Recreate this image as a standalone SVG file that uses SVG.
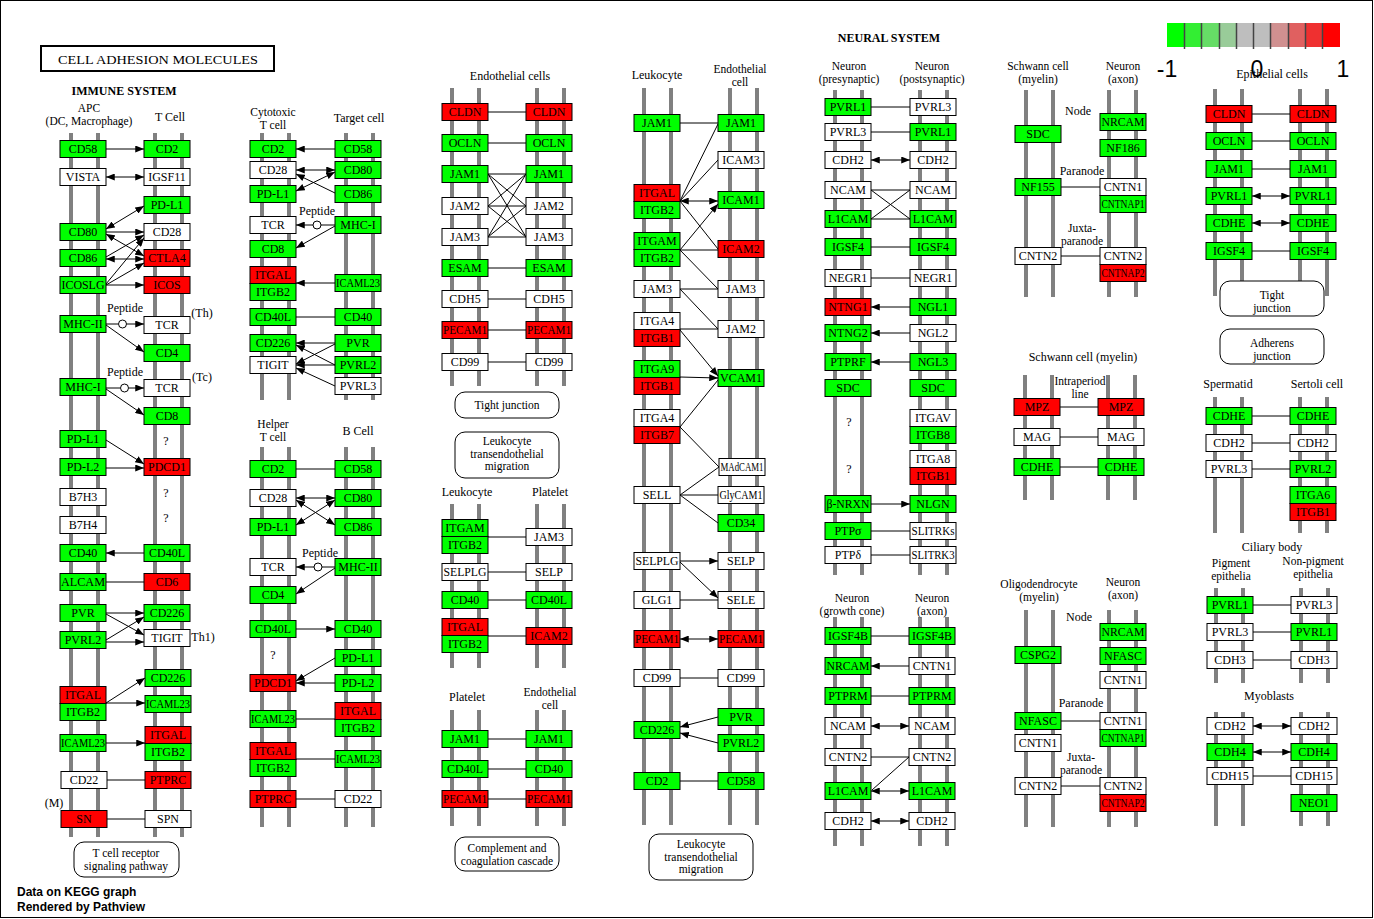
<svg xmlns="http://www.w3.org/2000/svg" width="1374" height="919" viewBox="0 0 1374 919">
<defs>
<marker id="ah" viewBox="0 0 10 8" refX="10" refY="4" markerWidth="9" markerHeight="7" markerUnits="userSpaceOnUse" orient="auto-start-reverse"><path d="M0,0L10,4L0,8z" fill="#000"/></marker>
</defs>
<style>
text{font-family:"Liberation Serif","DejaVu Serif",serif;font-size:12px;fill:#000}
.n text{text-anchor:middle}
.n rect{stroke:#000;stroke-width:1}
.g{fill:#00ff00}.r{fill:#ff0000}.w{fill:#ffffff}
.lanes path{stroke:#808080;stroke-width:4;fill:none}
.edges path{stroke:#000;stroke-width:1;fill:none}
.edges circle{fill:#fff;stroke:#000;stroke-width:1}
.a{marker-end:url(#ah)}
.d{marker-start:url(#ah);marker-end:url(#ah)}
.lbl text{text-anchor:middle}
.lbl text.s,.pw text{font-size:11.5px}
.pw rect{fill:#fff;stroke:#000;stroke-width:1}
.pw text{text-anchor:middle}
.leg text{font-family:"Liberation Sans",sans-serif;font-size:23px;text-anchor:middle}
.foot{font-family:"Liberation Sans",sans-serif;font-size:12px;font-weight:bold}
.b{font-weight:bold}
</style>
<rect x="0" y="0" width="1374" height="919" fill="#fff"/>
<rect x="0.5" y="0.5" width="1372" height="917" fill="none" stroke="#000"/>

<g id="lanes" class="lanes">
<path d="M71,133V837M98,133V837M155,133V837M182,133V837"/>
<path d="M262,133V400M289,133V400M346,133V400M373,133V400"/>
<path d="M262,447V827M289,447V827M346,447V827M373,447V827"/>
<path d="M452,88V386M479,88V386M537,88V386M564,88V386"/>
<path d="M452,504V668M479,504V668M537,504V668M564,504V668"/>
<path d="M452,710V826M479,710V826M537,710V826M564,710V826"/>
<path d="M644,88V825M671,88V825M730,88V825M757,88V825"/>
<path d="M835,90V575M862,90V575M920,90V575M947,90V575"/>
<path d="M835,617V846M862,617V846M920,617V846M947,617V846"/>
<path d="M1026,90V297M1053,90V297M1109,90V297M1136,90V297"/>
<path d="M1025,375V500M1052,375V500M1108,375V500M1135,375V500"/>
<path d="M1026,610V827M1053,610V827M1109,610V827M1136,610V827"/>
<path d="M1215,89V296M1242,89V296M1300,89V296M1327,89V296"/>
<path d="M1215,397V533M1242,397V533M1300,397V533M1327,397V533"/>
<path d="M1216,588V683M1243,588V683M1301,588V683M1328,588V683"/>
<path d="M1216,712V826M1243,712V826M1301,712V826M1328,712V826"/>
</g>

<g id="legend" class="leg">
<rect x="1167" y="23" width="18" height="24" fill="#00ff00"/>
<rect x="1184" y="23" width="18" height="24" fill="#33ee33"/>
<rect x="1201" y="23" width="18" height="24" fill="#66dd66"/>
<rect x="1219" y="23" width="18" height="24" fill="#99cc99"/>
<rect x="1236" y="23" width="18" height="24" fill="#bebebe"/>
<rect x="1253" y="23" width="18" height="24" fill="#bebebe"/>
<rect x="1270" y="23" width="18" height="24" fill="#d09090"/>
<rect x="1288" y="23" width="18" height="24" fill="#e06060"/>
<rect x="1305" y="23" width="18" height="24" fill="#ef3030"/>
<rect x="1322" y="23" width="18" height="24" fill="#ff0000"/>
<path d="M1184.5,23V49M1201.5,23V49M1219.5,23V49M1236.5,23V49M1253.5,23V49M1270.5,23V49M1288.5,23V49M1305.5,23V49M1322.5,23V49" stroke="#444" stroke-width="1.5"/>
<text x="1167" y="77">-1</text>
<text x="1257" y="77">0</text>
<text x="1343" y="77">1</text>
</g>

<g id="title">
<rect x="41" y="46" width="233" height="25" fill="#fff" stroke="#000" stroke-width="2"/>
<text x="158" y="64" font-size="14" text-anchor="middle" textLength="200" lengthAdjust="spacingAndGlyphs">CELL ADHESION MOLECULES</text>
</g>

<g id="labels" class="lbl">
<text x="124" y="95" class="b">IMMUNE SYSTEM</text>
<text x="89" y="112" class="s">APC</text>
<text x="89" y="125" class="s">(DC, Macrophage)</text>
<text x="170" y="121">T Cell</text>
<text x="125" y="312">Peptide</text>
<text x="125" y="376">Peptide</text>
<text x="202" y="317">(Th)</text>
<text x="202" y="381">(Tc)</text>
<text x="166" y="445">?</text>
<text x="166" y="497">?</text>
<text x="166" y="522">?</text>
<text x="203" y="641">Th1)</text>
<text x="54" y="807">(M)</text>
<text x="273" y="116" class="s">Cytotoxic</text>
<text x="273" y="129" class="s">T cell</text>
<text x="359" y="122">Target cell</text>
<text x="317" y="215">Peptide</text>
<text x="273" y="428" class="s">Helper</text>
<text x="273" y="441" class="s">T cell</text>
<text x="358" y="435">B Cell</text>
<text x="320" y="557">Peptide</text>
<text x="273" y="659">?</text>
<text x="510" y="80">Endothelial cells</text>
<text x="467" y="496">Leukocyte</text>
<text x="550" y="496">Platelet</text>
<text x="467" y="701">Platelet</text>
<text x="550" y="696" class="s">Endothelial</text>
<text x="550" y="709" class="s">cell</text>
<text x="657" y="79">Leukocyte</text>
<text x="740" y="73" class="s">Endothelial</text>
<text x="740" y="86" class="s">cell</text>
<text x="889" y="42" class="b">NEURAL SYSTEM</text>
<text x="849" y="70" class="s">Neuron</text>
<text x="849" y="83" class="s">(presynaptic)</text>
<text x="932" y="70" class="s">Neuron</text>
<text x="932" y="83" class="s">(postsynaptic)</text>
<text x="849" y="426">?</text>
<text x="849" y="473">?</text>
<text x="852" y="602" class="s">Neuron</text>
<text x="852" y="615" class="s">(growth cone)</text>
<text x="932" y="602" class="s">Neuron</text>
<text x="932" y="615" class="s">(axon)</text>
<text x="1038" y="70" class="s">Schwann cell</text>
<text x="1038" y="83" class="s">(myelin)</text>
<text x="1123" y="70" class="s">Neuron</text>
<text x="1123" y="83" class="s">(axon)</text>
<text x="1078" y="115">Node</text>
<text x="1082" y="175">Paranode</text>
<text x="1082" y="232" class="s">Juxta-</text>
<text x="1082" y="245" class="s">paranode</text>
<text x="1083" y="361">Schwann cell (myelin)</text>
<text x="1080" y="385" class="s">Intraperiod</text>
<text x="1080" y="398" class="s">line</text>
<text x="1039" y="588" class="s">Oligodendrocyte</text>
<text x="1039" y="601" class="s">(myelin)</text>
<text x="1123" y="586" class="s">Neuron</text>
<text x="1123" y="599" class="s">(axon)</text>
<text x="1079" y="621">Node</text>
<text x="1081" y="707">Paranode</text>
<text x="1081" y="761" class="s">Juxta-</text>
<text x="1081" y="774" class="s">paranode</text>
<text x="1272" y="78">Epithelial cells</text>
<text x="1228" y="388">Spermatid</text>
<text x="1317" y="388">Sertoli cell</text>
<text x="1272" y="551">Ciliary body</text>
<text x="1231" y="567" class="s">Pigment</text>
<text x="1231" y="580" class="s">epithelia</text>
<text x="1313" y="565" class="s">Non-pigment</text>
<text x="1313" y="578" class="s">epithelia</text>
<text x="1269" y="700">Myoblasts</text>
</g>

<g id="pathways" class="pw">
<g id="pw-tcr"><rect x="74" y="842" width="105" height="35" rx="10"/><text x="126" y="857">T cell receptor</text><text x="126" y="870">signaling pathway</text></g>
<g id="pw-tj1"><rect x="455" y="392" width="104" height="26" rx="10"/><text x="507" y="409">Tight junction</text></g>
<g id="pw-ltm1"><rect x="455" y="432" width="104" height="46" rx="10"/><text x="507" y="445">Leukocyte</text><text x="507" y="457.5">transendothelial</text><text x="507" y="470">migration</text></g>
<g id="pw-cc"><rect x="455" y="837" width="104" height="34" rx="10"/><text x="507" y="852">Complement and</text><text x="507" y="865">coagulation cascade</text></g>
<g id="pw-ltm2"><rect x="649" y="834" width="104" height="46" rx="10"/><text x="701" y="848">Leukocyte</text><text x="701" y="860.5">transendothelial</text><text x="701" y="873">migration</text></g>
<g id="pw-tj2"><rect x="1220" y="281" width="104" height="35" rx="10"/><text x="1272" y="299">Tight</text><text x="1272" y="312">junction</text></g>
<g id="pw-aj"><rect x="1220" y="329" width="104" height="35" rx="10"/><text x="1272" y="347">Adherens</text><text x="1272" y="360">junction</text></g>
</g>

<g id="edges" class="edges">
<path class="a" d="M106,149L144,149"/>
<path class="d" d="M106,177L144,177"/>
<path class="d" d="M106,229L144,206"/>
<path class="a" d="M106,232L144,232"/>
<path class="d" d="M106,234L144,256"/>
<path class="a" d="M106,257L144,235"/>
<path class="d" d="M106,259L144,259"/>
<path class="a" d="M106,284L144,238"/>
<path class="a" d="M106,285L144,263"/>
<path class="a" d="M106,285L144,285"/>
<path d="M106,324L118,324"/><circle cx="122.5" cy="324" r="4"/><path class="a" d="M127,324L144,324"/>
<path class="a" d="M106,325L144,352"/>
<path d="M106,388L120,388"/><circle cx="124.5" cy="388" r="4"/><path class="a" d="M129,388L144,388"/>
<path class="a" d="M106,389L144,415"/>
<path class="a" d="M106,440L144,464"/>
<path class="a" d="M106,468L144,468"/>
<path class="a" d="M144,553L106,553"/>
<path d="M106,582L144,582"/>
<path class="a" d="M106,613L144,613"/>
<path class="a" d="M106,614L144,635"/>
<path class="a" d="M106,640L144,617"/>
<path class="a" d="M106,642L144,642"/>
<path class="a" d="M106,703L145,678"/>
<path class="a" d="M106,703L145,703"/>
<path class="a" d="M106,743L145,743"/>
<path d="M107,780L145,780"/>
<path d="M107,819L145,819"/>

<path class="a" d="M335,149L296,149"/>
<path class="d" d="M296,170L335,170"/>
<path class="a" d="M335,193L296,174"/>
<path class="d" d="M335,172L296,191"/>
<path d="M335,225L321,225"/><circle cx="317" cy="225" r="4"/><path class="a" d="M313,225L296,225"/>
<path class="a" d="M335,226L296,248"/>
<path class="a" d="M335,283L296,283"/>
<path d="M296,317L335,317"/>
<path class="a" d="M335,343L296,343"/>
<path class="a" d="M335,344L296,364"/>
<path class="a" d="M335,365L296,345"/>
<path class="a" d="M335,365L296,365"/>
<path class="a" d="M335,386L296,368"/>

<path d="M296,469L335,469"/>
<path class="d" d="M296,498L335,498"/>
<path class="d" d="M296,500L335,525"/>
<path class="d" d="M296,525L335,500"/>
<path d="M335,567L322,567"/><circle cx="318" cy="567" r="4"/><path class="a" d="M314,567L296,567"/>
<path class="a" d="M335,568L296,594"/>
<path class="a" d="M296,629L335,629"/>
<path class="a" d="M335,658L296,681"/>
<path class="a" d="M335,683L296,683"/>
<path d="M296,719L335,719"/>
<path d="M296,759L335,759"/>
<path d="M296,799L335,799"/>

<path d="M488,112L526,112M488,143L526,143M488,268L526,268M488,299L526,299M488,330L526,330M488,362L526,362"/>
<path d="M488,174L526,174M488,174L526,206M488,174L526,237M488,206L526,174M488,206L526,206M488,206L526,237M488,237L526,174M488,237L526,206M488,237L526,237"/>
<path d="M488,537L526,537M488,572L526,572M488,600L526,600M488,636L526,636"/>
<path d="M488,739L526,739M488,769L526,769M488,799L526,799"/>

<path d="M680,123L718,123"/>
<path d="M680,201L718,124"/>
<path d="M680,201L718,160"/>
<path class="d" d="M680,201L718,201"/>
<path d="M680,201L718,249"/>
<path class="a" d="M680,250L718,204"/>
<path d="M680,250L718,250"/>
<path d="M680,250L718,289"/>
<path d="M680,289L718,289"/>
<path d="M680,289L718,329"/>
<path d="M680,329L718,329"/>
<path class="a" d="M680,330L718,376"/>
<path class="a" d="M680,377L718,378"/>
<path d="M680,427L718,380"/>
<path d="M680,427L719,467"/>
<path d="M680,495L719,467"/>
<path d="M680,495L718,495"/>
<path d="M680,495L718,523"/>
<path class="a" d="M680,561L718,561"/>
<path class="a" d="M680,562L718,598"/>
<path d="M680,600L718,600"/>
<path class="d" d="M680,639L718,639"/>
<path d="M680,678L718,678"/>
<path class="a" d="M718,717L680,727"/>
<path class="a" d="M718,743L680,733"/>
<path d="M680,781L718,781"/>

<path d="M871,107L910,107M871,132L910,132M871,190L910,190M871,219L910,219M871,190L910,219M871,219L910,190M871,247L910,247M871,278L910,278M871,531L910,531M871,555L910,555"/>
<path class="d" d="M871,160L910,160"/>
<path class="a" d="M910,307L871,307"/>
<path class="a" d="M910,333L871,333"/>
<path class="a" d="M910,362L871,362"/>
<path class="a" d="M871,504L910,504"/>

<path d="M871,636L909,636M871,696L909,696M871,757L909,757M909,757L872,790"/>
<path class="a" d="M909,666L871,666"/>
<path class="d" d="M871,726L909,726"/>
<path class="d" d="M871,791L909,791"/>
<path class="d" d="M871,821L909,821"/>

<path d="M1061,187L1100,187M1061,256L1100,256"/>
<path d="M1060,407L1098,407M1060,437L1098,437M1060,467L1098,467"/>
<path d="M1061,721L1100,721M1061,786L1100,786"/>

<path d="M1252,114L1290,114M1252,141L1290,141M1252,169L1290,169M1252,251L1290,251"/>
<path class="d" d="M1252,196L1290,196"/>
<path class="d" d="M1252,223L1290,223"/>
<path d="M1252,416L1290,416M1252,443L1290,443M1252,469L1290,469"/>
<path d="M1253,605L1291,605M1253,632L1291,632M1253,660L1291,660"/>
<path class="d" d="M1253,726L1291,726"/>
<path class="d" d="M1253,752L1291,752"/>
<path d="M1253,776L1291,776"/>
</g>

<g id="nodes">
<g id="p1-cd58" class="n"><rect class="g" x="60" y="140.5" width="46" height="17"/><text x="83" y="153">CD58</text></g>
<g id="p1-cd2" class="n"><rect class="g" x="144" y="140.5" width="46" height="17"/><text x="167" y="153">CD2</text></g>
<g id="p1-vista" class="n"><rect class="w" x="60" y="168.5" width="46" height="17"/><text x="83" y="181">VISTA</text></g>
<g id="p1-igsf11" class="n"><rect class="w" x="144" y="168.5" width="46" height="17"/><text x="167" y="181">IGSF11</text></g>
<g id="p1-pdl1-t" class="n"><rect class="g" x="144" y="196.5" width="46" height="17"/><text x="167" y="209">PD-L1</text></g>
<g id="p1-cd80" class="n"><rect class="g" x="60" y="223.5" width="46" height="17"/><text x="83" y="236">CD80</text></g>
<g id="p1-cd28" class="n"><rect class="w" x="144" y="223.5" width="46" height="17"/><text x="167" y="236">CD28</text></g>
<g id="p1-cd86" class="n"><rect class="g" x="60" y="249.5" width="46" height="17"/><text x="83" y="262">CD86</text></g>
<g id="p1-ctla4" class="n"><rect class="r" x="144" y="249.5" width="46" height="17"/><text x="167" y="262">CTLA4</text></g>
<g id="p1-icoslg" class="n"><rect class="g" x="60" y="276.5" width="46" height="17"/><text x="83" y="289" textLength="43" lengthAdjust="spacingAndGlyphs">ICOSLG</text></g>
<g id="p1-icos" class="n"><rect class="r" x="144" y="276.5" width="46" height="17"/><text x="167" y="289">ICOS</text></g>
<g id="p1-mhc2" class="n"><rect class="g" x="60" y="315.5" width="46" height="17"/><text x="83" y="328">MHC-II</text></g>
<g id="p1-tcr-th" class="n"><rect class="w" x="144" y="316.5" width="46" height="17"/><text x="167" y="329">TCR</text></g>
<g id="p1-cd4" class="n"><rect class="g" x="144" y="344.5" width="46" height="17"/><text x="167" y="357">CD4</text></g>
<g id="p1-mhc1" class="n"><rect class="g" x="60" y="378.5" width="46" height="17"/><text x="83" y="391">MHC-I</text></g>
<g id="p1-tcr-tc" class="n"><rect class="w" x="144" y="379.5" width="46" height="17"/><text x="167" y="392">TCR</text></g>
<g id="p1-cd8" class="n"><rect class="g" x="144" y="407.5" width="46" height="17"/><text x="167" y="420">CD8</text></g>
<g id="p1-pdl1-a" class="n"><rect class="g" x="60" y="430.5" width="46" height="17"/><text x="83" y="443">PD-L1</text></g>
<g id="p1-pdl2" class="n"><rect class="g" x="60" y="458.5" width="46" height="17"/><text x="83" y="471">PD-L2</text></g>
<g id="p1-pdcd1" class="n"><rect class="r" x="144" y="458.5" width="46" height="17"/><text x="167" y="471">PDCD1</text></g>
<g id="p1-b7h3" class="n"><rect class="w" x="60" y="488.5" width="46" height="17"/><text x="83" y="501">B7H3</text></g>
<g id="p1-b7h4" class="n"><rect class="w" x="60" y="516.5" width="46" height="17"/><text x="83" y="529">B7H4</text></g>
<g id="p1-cd40" class="n"><rect class="g" x="60" y="544.5" width="46" height="17"/><text x="83" y="557">CD40</text></g>
<g id="p1-cd40l" class="n"><rect class="g" x="144" y="544.5" width="46" height="17"/><text x="167" y="557">CD40L</text></g>
<g id="p1-alcam" class="n"><rect class="g" x="60" y="573.5" width="46" height="17"/><text x="83" y="586" textLength="44" lengthAdjust="spacingAndGlyphs">ALCAM</text></g>
<g id="p1-cd6" class="n"><rect class="r" x="144" y="573.5" width="46" height="17"/><text x="167" y="586">CD6</text></g>
<g id="p1-pvr" class="n"><rect class="g" x="60" y="604.5" width="46" height="17"/><text x="83" y="617">PVR</text></g>
<g id="p1-cd226" class="n"><rect class="g" x="144" y="604.5" width="46" height="17"/><text x="167" y="617">CD226</text></g>
<g id="p1-pvrl2" class="n"><rect class="g" x="60" y="631.5" width="46" height="17"/><text x="83" y="644">PVRL2</text></g>
<g id="p1-tigit" class="n"><rect class="w" x="144" y="629.5" width="46" height="17"/><text x="167" y="642">TIGIT</text></g>
<g id="p1-cd226-b" class="n"><rect class="g" x="145" y="669.5" width="46" height="17"/><text x="168" y="682">CD226</text></g>
<g id="p1-itgal-itgb2-a" class="n"><rect class="r" x="60" y="686.5" width="46" height="17"/><text x="83" y="699">ITGAL</text><rect class="g" x="60" y="703.5" width="46" height="17"/><text x="83" y="716">ITGB2</text></g>
<g id="p1-icaml23-t" class="n"><rect class="g" x="145" y="695.5" width="46" height="17"/><text x="168" y="708" textLength="44" lengthAdjust="spacingAndGlyphs">ICAML23</text></g>
<g id="p1-icaml23-a" class="n"><rect class="g" x="60" y="734.5" width="46" height="17"/><text x="83" y="747" textLength="44" lengthAdjust="spacingAndGlyphs">ICAML23</text></g>
<g id="p1-itgal-itgb2-t" class="n"><rect class="r" x="145" y="726.5" width="46" height="17"/><text x="168" y="739">ITGAL</text><rect class="g" x="145" y="743.5" width="46" height="17"/><text x="168" y="756">ITGB2</text></g>
<g id="p1-cd22" class="n"><rect class="w" x="61" y="771.5" width="46" height="17"/><text x="84" y="784">CD22</text></g>
<g id="p1-ptprc" class="n"><rect class="r" x="145" y="771.5" width="46" height="17"/><text x="168" y="784">PTPRC</text></g>
<g id="p1-sn" class="n"><rect class="r" x="61" y="810.5" width="46" height="17"/><text x="84" y="823">SN</text></g>
<g id="p1-spn" class="n"><rect class="w" x="145" y="810.5" width="46" height="17"/><text x="168" y="823">SPN</text></g>

<g id="p2-cd2" class="n"><rect class="g" x="250" y="140.5" width="46" height="17"/><text x="273" y="153">CD2</text></g>
<g id="p2-cd58" class="n"><rect class="g" x="335" y="140.5" width="46" height="17"/><text x="358" y="153">CD58</text></g>
<g id="p2-cd28" class="n"><rect class="w" x="250" y="161.5" width="46" height="17"/><text x="273" y="174">CD28</text></g>
<g id="p2-cd80" class="n"><rect class="g" x="335" y="161.5" width="46" height="17"/><text x="358" y="174">CD80</text></g>
<g id="p2-pdl1" class="n"><rect class="g" x="250" y="185.5" width="46" height="17"/><text x="273" y="198">PD-L1</text></g>
<g id="p2-cd86" class="n"><rect class="g" x="335" y="185.5" width="46" height="17"/><text x="358" y="198">CD86</text></g>
<g id="p2-tcr" class="n"><rect class="w" x="250" y="216.5" width="46" height="17"/><text x="273" y="229">TCR</text></g>
<g id="p2-mhc1" class="n"><rect class="g" x="335" y="216.5" width="46" height="17"/><text x="358" y="229">MHC-I</text></g>
<g id="p2-cd8" class="n"><rect class="g" x="250" y="240.5" width="46" height="17"/><text x="273" y="253">CD8</text></g>
<g id="p2-itgal-itgb2" class="n"><rect class="r" x="250" y="266.5" width="46" height="17"/><text x="273" y="279">ITGAL</text><rect class="g" x="250" y="283.5" width="46" height="17"/><text x="273" y="296">ITGB2</text></g>
<g id="p2-icaml23" class="n"><rect class="g" x="335" y="274.5" width="46" height="17"/><text x="358" y="287" textLength="44" lengthAdjust="spacingAndGlyphs">ICAML23</text></g>
<g id="p2-cd40l" class="n"><rect class="g" x="250" y="308.5" width="46" height="17"/><text x="273" y="321">CD40L</text></g>
<g id="p2-cd40" class="n"><rect class="g" x="335" y="308.5" width="46" height="17"/><text x="358" y="321">CD40</text></g>
<g id="p2-cd226" class="n"><rect class="g" x="250" y="334.5" width="46" height="17"/><text x="273" y="347">CD226</text></g>
<g id="p2-pvr" class="n"><rect class="g" x="335" y="334.5" width="46" height="17"/><text x="358" y="347">PVR</text></g>
<g id="p2-tigit" class="n"><rect class="w" x="250" y="356.5" width="46" height="17"/><text x="273" y="369">TIGIT</text></g>
<g id="p2-pvrl2" class="n"><rect class="g" x="335" y="356.5" width="46" height="17"/><text x="358" y="369">PVRL2</text></g>
<g id="p2-pvrl3" class="n"><rect class="w" x="335" y="377.5" width="46" height="17"/><text x="358" y="390">PVRL3</text></g>

<g id="p3-cd2" class="n"><rect class="g" x="250" y="460.5" width="46" height="17"/><text x="273" y="473">CD2</text></g>
<g id="p3-cd58" class="n"><rect class="g" x="335" y="460.5" width="46" height="17"/><text x="358" y="473">CD58</text></g>
<g id="p3-cd28" class="n"><rect class="w" x="250" y="489.5" width="46" height="17"/><text x="273" y="502">CD28</text></g>
<g id="p3-cd80" class="n"><rect class="g" x="335" y="489.5" width="46" height="17"/><text x="358" y="502">CD80</text></g>
<g id="p3-pdl1" class="n"><rect class="g" x="250" y="518.5" width="46" height="17"/><text x="273" y="531">PD-L1</text></g>
<g id="p3-cd86" class="n"><rect class="g" x="335" y="518.5" width="46" height="17"/><text x="358" y="531">CD86</text></g>
<g id="p3-tcr" class="n"><rect class="w" x="250" y="558.5" width="46" height="17"/><text x="273" y="571">TCR</text></g>
<g id="p3-mhc2" class="n"><rect class="g" x="335" y="558.5" width="46" height="17"/><text x="358" y="571">MHC-II</text></g>
<g id="p3-cd4" class="n"><rect class="g" x="250" y="586.5" width="46" height="17"/><text x="273" y="599">CD4</text></g>
<g id="p3-cd40l" class="n"><rect class="g" x="250" y="620.5" width="46" height="17"/><text x="273" y="633">CD40L</text></g>
<g id="p3-cd40" class="n"><rect class="g" x="335" y="620.5" width="46" height="17"/><text x="358" y="633">CD40</text></g>
<g id="p3-pdl1-b" class="n"><rect class="g" x="335" y="649.5" width="46" height="17"/><text x="358" y="662">PD-L1</text></g>
<g id="p3-pdcd1" class="n"><rect class="r" x="250" y="674.5" width="46" height="17"/><text x="273" y="687">PDCD1</text></g>
<g id="p3-pdl2" class="n"><rect class="g" x="335" y="674.5" width="46" height="17"/><text x="358" y="687">PD-L2</text></g>
<g id="p3-icaml23" class="n"><rect class="g" x="250" y="710.5" width="46" height="17"/><text x="273" y="723" textLength="44" lengthAdjust="spacingAndGlyphs">ICAML23</text></g>
<g id="p3-itgal-itgb2-b" class="n"><rect class="r" x="335" y="702.5" width="46" height="17"/><text x="358" y="715">ITGAL</text><rect class="g" x="335" y="719.5" width="46" height="17"/><text x="358" y="732">ITGB2</text></g>
<g id="p3-itgal-itgb2" class="n"><rect class="r" x="250" y="742.5" width="46" height="17"/><text x="273" y="755">ITGAL</text><rect class="g" x="250" y="759.5" width="46" height="17"/><text x="273" y="772">ITGB2</text></g>
<g id="p3-icaml23-b" class="n"><rect class="g" x="335" y="750.5" width="46" height="17"/><text x="358" y="763" textLength="44" lengthAdjust="spacingAndGlyphs">ICAML23</text></g>
<g id="p3-ptprc" class="n"><rect class="r" x="250" y="790.5" width="46" height="17"/><text x="273" y="803">PTPRC</text></g>
<g id="p3-cd22" class="n"><rect class="w" x="335" y="790.5" width="46" height="17"/><text x="358" y="803">CD22</text></g>

<g id="p4-cldn-l" class="n"><rect class="r" x="442" y="103.5" width="46" height="17"/><text x="465" y="116">CLDN</text></g>
<g id="p4-cldn-r" class="n"><rect class="r" x="526" y="103.5" width="46" height="17"/><text x="549" y="116">CLDN</text></g>
<g id="p4-ocln-l" class="n"><rect class="g" x="442" y="134.5" width="46" height="17"/><text x="465" y="147">OCLN</text></g>
<g id="p4-ocln-r" class="n"><rect class="g" x="526" y="134.5" width="46" height="17"/><text x="549" y="147">OCLN</text></g>
<g id="p4-jam1-l" class="n"><rect class="g" x="442" y="165.5" width="46" height="17"/><text x="465" y="178">JAM1</text></g>
<g id="p4-jam1-r" class="n"><rect class="g" x="526" y="165.5" width="46" height="17"/><text x="549" y="178">JAM1</text></g>
<g id="p4-jam2-l" class="n"><rect class="w" x="442" y="197.5" width="46" height="17"/><text x="465" y="210">JAM2</text></g>
<g id="p4-jam2-r" class="n"><rect class="w" x="526" y="197.5" width="46" height="17"/><text x="549" y="210">JAM2</text></g>
<g id="p4-jam3-l" class="n"><rect class="w" x="442" y="228.5" width="46" height="17"/><text x="465" y="241">JAM3</text></g>
<g id="p4-jam3-r" class="n"><rect class="w" x="526" y="228.5" width="46" height="17"/><text x="549" y="241">JAM3</text></g>
<g id="p4-esam-l" class="n"><rect class="g" x="442" y="259.5" width="46" height="17"/><text x="465" y="272">ESAM</text></g>
<g id="p4-esam-r" class="n"><rect class="g" x="526" y="259.5" width="46" height="17"/><text x="549" y="272">ESAM</text></g>
<g id="p4-cdh5-l" class="n"><rect class="w" x="442" y="290.5" width="46" height="17"/><text x="465" y="303">CDH5</text></g>
<g id="p4-cdh5-r" class="n"><rect class="w" x="526" y="290.5" width="46" height="17"/><text x="549" y="303">CDH5</text></g>
<g id="p4-pecam1-l" class="n"><rect class="r" x="442" y="321.5" width="46" height="17"/><text x="465" y="334" textLength="44" lengthAdjust="spacingAndGlyphs">PECAM1</text></g>
<g id="p4-pecam1-r" class="n"><rect class="r" x="526" y="321.5" width="46" height="17"/><text x="549" y="334" textLength="44" lengthAdjust="spacingAndGlyphs">PECAM1</text></g>
<g id="p4-cd99-l" class="n"><rect class="w" x="442" y="353.5" width="46" height="17"/><text x="465" y="366">CD99</text></g>
<g id="p4-cd99-r" class="n"><rect class="w" x="526" y="353.5" width="46" height="17"/><text x="549" y="366">CD99</text></g>

<g id="p5-itgam-itgb2" class="n"><rect class="g" x="442" y="519.5" width="46" height="17"/><text x="465" y="532">ITGAM</text><rect class="g" x="442" y="536.5" width="46" height="17"/><text x="465" y="549">ITGB2</text></g>
<g id="p5-jam3" class="n"><rect class="w" x="526" y="528.5" width="46" height="17"/><text x="549" y="541">JAM3</text></g>
<g id="p5-selplg" class="n"><rect class="w" x="442" y="563.5" width="46" height="17"/><text x="465" y="576" textLength="43" lengthAdjust="spacingAndGlyphs">SELPLG</text></g>
<g id="p5-selp" class="n"><rect class="w" x="526" y="563.5" width="46" height="17"/><text x="549" y="576">SELP</text></g>
<g id="p5-cd40" class="n"><rect class="g" x="442" y="591.5" width="46" height="17"/><text x="465" y="604">CD40</text></g>
<g id="p5-cd40l" class="n"><rect class="g" x="526" y="591.5" width="46" height="17"/><text x="549" y="604">CD40L</text></g>
<g id="p5-itgal-itgb2" class="n"><rect class="r" x="442" y="618.5" width="46" height="17"/><text x="465" y="631">ITGAL</text><rect class="g" x="442" y="635.5" width="46" height="17"/><text x="465" y="648">ITGB2</text></g>
<g id="p5-icam2" class="n"><rect class="r" x="526" y="627.5" width="46" height="17"/><text x="549" y="640">ICAM2</text></g>

<g id="p6-jam1-l" class="n"><rect class="g" x="442" y="730.5" width="46" height="17"/><text x="465" y="743">JAM1</text></g>
<g id="p6-jam1-r" class="n"><rect class="g" x="526" y="730.5" width="46" height="17"/><text x="549" y="743">JAM1</text></g>
<g id="p6-cd40l" class="n"><rect class="g" x="442" y="760.5" width="46" height="17"/><text x="465" y="773">CD40L</text></g>
<g id="p6-cd40" class="n"><rect class="g" x="526" y="760.5" width="46" height="17"/><text x="549" y="773">CD40</text></g>
<g id="p6-pecam1-l" class="n"><rect class="r" x="442" y="790.5" width="46" height="17"/><text x="465" y="803" textLength="44" lengthAdjust="spacingAndGlyphs">PECAM1</text></g>
<g id="p6-pecam1-r" class="n"><rect class="r" x="526" y="790.5" width="46" height="17"/><text x="549" y="803" textLength="44" lengthAdjust="spacingAndGlyphs">PECAM1</text></g>

<g id="p7-jam1-l" class="n"><rect class="g" x="634" y="114.5" width="46" height="17"/><text x="657" y="127">JAM1</text></g>
<g id="p7-jam1-r" class="n"><rect class="g" x="718" y="114.5" width="46" height="17"/><text x="741" y="127">JAM1</text></g>
<g id="p7-icam3" class="n"><rect class="w" x="718" y="151.5" width="46" height="17"/><text x="741" y="164">ICAM3</text></g>
<g id="p7-itgal-itgb2" class="n"><rect class="r" x="634" y="184.5" width="46" height="17"/><text x="657" y="197">ITGAL</text><rect class="g" x="634" y="201.5" width="46" height="17"/><text x="657" y="214">ITGB2</text></g>
<g id="p7-icam1" class="n"><rect class="g" x="718" y="191.5" width="46" height="17"/><text x="741" y="204">ICAM1</text></g>
<g id="p7-itgam-itgb2" class="n"><rect class="g" x="634" y="232.5" width="46" height="17"/><text x="657" y="245">ITGAM</text><rect class="g" x="634" y="249.5" width="46" height="17"/><text x="657" y="262">ITGB2</text></g>
<g id="p7-icam2" class="n"><rect class="r" x="718" y="240.5" width="46" height="17"/><text x="741" y="253">ICAM2</text></g>
<g id="p7-jam3-l" class="n"><rect class="w" x="634" y="280.5" width="46" height="17"/><text x="657" y="293">JAM3</text></g>
<g id="p7-jam3-r" class="n"><rect class="w" x="718" y="280.5" width="46" height="17"/><text x="741" y="293">JAM3</text></g>
<g id="p7-itga4-itgb1" class="n"><rect class="w" x="634" y="312.5" width="46" height="17"/><text x="657" y="325">ITGA4</text><rect class="r" x="634" y="329.5" width="46" height="17"/><text x="657" y="342">ITGB1</text></g>
<g id="p7-jam2" class="n"><rect class="w" x="718" y="320.5" width="46" height="17"/><text x="741" y="333">JAM2</text></g>
<g id="p7-itga9-itgb1" class="n"><rect class="g" x="634" y="360.5" width="46" height="17"/><text x="657" y="373">ITGA9</text><rect class="r" x="634" y="377.5" width="46" height="17"/><text x="657" y="390">ITGB1</text></g>
<g id="p7-vcam1" class="n"><rect class="g" x="718" y="369.5" width="46" height="17"/><text x="741" y="382">VCAM1</text></g>
<g id="p7-itga4-itgb7" class="n"><rect class="w" x="634" y="409.5" width="46" height="17"/><text x="657" y="422">ITGA4</text><rect class="r" x="634" y="426.5" width="46" height="17"/><text x="657" y="439">ITGB7</text></g>
<g id="p7-madcam1" class="n"><rect class="w" x="719" y="458.5" width="46" height="17"/><text x="742" y="471" textLength="43" lengthAdjust="spacingAndGlyphs">MAdCAM1</text></g>
<g id="p7-sell" class="n"><rect class="w" x="634" y="486.5" width="46" height="17"/><text x="657" y="499">SELL</text></g>
<g id="p7-glycam1" class="n"><rect class="w" x="718" y="486.5" width="46" height="17"/><text x="741" y="499" textLength="43" lengthAdjust="spacingAndGlyphs">GlyCAM1</text></g>
<g id="p7-cd34" class="n"><rect class="g" x="718" y="514.5" width="46" height="17"/><text x="741" y="527">CD34</text></g>
<g id="p7-selplg" class="n"><rect class="w" x="634" y="552.5" width="46" height="17"/><text x="657" y="565" textLength="43" lengthAdjust="spacingAndGlyphs">SELPLG</text></g>
<g id="p7-selp" class="n"><rect class="w" x="718" y="552.5" width="46" height="17"/><text x="741" y="565">SELP</text></g>
<g id="p7-glg1" class="n"><rect class="w" x="634" y="591.5" width="46" height="17"/><text x="657" y="604">GLG1</text></g>
<g id="p7-sele" class="n"><rect class="w" x="718" y="591.5" width="46" height="17"/><text x="741" y="604">SELE</text></g>
<g id="p7-pecam1-l" class="n"><rect class="r" x="634" y="630.5" width="46" height="17"/><text x="657" y="643" textLength="44" lengthAdjust="spacingAndGlyphs">PECAM1</text></g>
<g id="p7-pecam1-r" class="n"><rect class="r" x="718" y="630.5" width="46" height="17"/><text x="741" y="643" textLength="44" lengthAdjust="spacingAndGlyphs">PECAM1</text></g>
<g id="p7-cd99-l" class="n"><rect class="w" x="634" y="669.5" width="46" height="17"/><text x="657" y="682">CD99</text></g>
<g id="p7-cd99-r" class="n"><rect class="w" x="718" y="669.5" width="46" height="17"/><text x="741" y="682">CD99</text></g>
<g id="p7-pvr" class="n"><rect class="g" x="718" y="708.5" width="46" height="17"/><text x="741" y="721">PVR</text></g>
<g id="p7-cd226" class="n"><rect class="g" x="634" y="721.5" width="46" height="17"/><text x="657" y="734">CD226</text></g>
<g id="p7-pvrl2" class="n"><rect class="g" x="718" y="734.5" width="46" height="17"/><text x="741" y="747">PVRL2</text></g>
<g id="p7-cd2" class="n"><rect class="g" x="634" y="772.5" width="46" height="17"/><text x="657" y="785">CD2</text></g>
<g id="p7-cd58" class="n"><rect class="g" x="718" y="772.5" width="46" height="17"/><text x="741" y="785">CD58</text></g>

<g id="p8-pvrl1-l" class="n"><rect class="g" x="825" y="98.5" width="46" height="17"/><text x="848" y="111">PVRL1</text></g>
<g id="p8-pvrl3-r" class="n"><rect class="w" x="910" y="98.5" width="46" height="17"/><text x="933" y="111">PVRL3</text></g>
<g id="p8-pvrl3-l" class="n"><rect class="w" x="825" y="123.5" width="46" height="17"/><text x="848" y="136">PVRL3</text></g>
<g id="p8-pvrl1-r" class="n"><rect class="g" x="910" y="123.5" width="46" height="17"/><text x="933" y="136">PVRL1</text></g>
<g id="p8-cdh2-l" class="n"><rect class="w" x="825" y="151.5" width="46" height="17"/><text x="848" y="164">CDH2</text></g>
<g id="p8-cdh2-r" class="n"><rect class="w" x="910" y="151.5" width="46" height="17"/><text x="933" y="164">CDH2</text></g>
<g id="p8-ncam-l" class="n"><rect class="w" x="825" y="181.5" width="46" height="17"/><text x="848" y="194">NCAM</text></g>
<g id="p8-ncam-r" class="n"><rect class="w" x="910" y="181.5" width="46" height="17"/><text x="933" y="194">NCAM</text></g>
<g id="p8-l1cam-l" class="n"><rect class="g" x="825" y="210.5" width="46" height="17"/><text x="848" y="223">L1CAM</text></g>
<g id="p8-l1cam-r" class="n"><rect class="g" x="910" y="210.5" width="46" height="17"/><text x="933" y="223">L1CAM</text></g>
<g id="p8-igsf4-l" class="n"><rect class="g" x="825" y="238.5" width="46" height="17"/><text x="848" y="251">IGSF4</text></g>
<g id="p8-igsf4-r" class="n"><rect class="g" x="910" y="238.5" width="46" height="17"/><text x="933" y="251">IGSF4</text></g>
<g id="p8-negr1-l" class="n"><rect class="w" x="825" y="269.5" width="46" height="17"/><text x="848" y="282">NEGR1</text></g>
<g id="p8-negr1-r" class="n"><rect class="w" x="910" y="269.5" width="46" height="17"/><text x="933" y="282">NEGR1</text></g>
<g id="p8-ntng1" class="n"><rect class="r" x="825" y="298.5" width="46" height="17"/><text x="848" y="311">NTNG1</text></g>
<g id="p8-ngl1" class="n"><rect class="g" x="910" y="298.5" width="46" height="17"/><text x="933" y="311">NGL1</text></g>
<g id="p8-ntng2" class="n"><rect class="g" x="825" y="324.5" width="46" height="17"/><text x="848" y="337">NTNG2</text></g>
<g id="p8-ngl2" class="n"><rect class="w" x="910" y="324.5" width="46" height="17"/><text x="933" y="337">NGL2</text></g>
<g id="p8-ptprf" class="n"><rect class="g" x="825" y="353.5" width="46" height="17"/><text x="848" y="366">PTPRF</text></g>
<g id="p8-ngl3" class="n"><rect class="g" x="910" y="353.5" width="46" height="17"/><text x="933" y="366">NGL3</text></g>
<g id="p8-sdc-l" class="n"><rect class="g" x="825" y="379.5" width="46" height="17"/><text x="848" y="392">SDC</text></g>
<g id="p8-sdc-r" class="n"><rect class="g" x="910" y="379.5" width="46" height="17"/><text x="933" y="392">SDC</text></g>
<g id="p8-itgav-itgb8" class="n"><rect class="w" x="910" y="409.5" width="46" height="17"/><text x="933" y="422">ITGAV</text><rect class="g" x="910" y="426.5" width="46" height="17"/><text x="933" y="439">ITGB8</text></g>
<g id="p8-itga8-itgb1" class="n"><rect class="w" x="910" y="450.5" width="46" height="17"/><text x="933" y="463">ITGA8</text><rect class="r" x="910" y="467.5" width="46" height="17"/><text x="933" y="480">ITGB1</text></g>
<g id="p8-bnrxn" class="n"><rect class="g" x="825" y="495.5" width="46" height="17"/><text x="848" y="508" textLength="43" lengthAdjust="spacingAndGlyphs">β-NRXN</text></g>
<g id="p8-nlgn" class="n"><rect class="g" x="910" y="495.5" width="46" height="17"/><text x="933" y="508">NLGN</text></g>
<g id="p8-ptps" class="n"><rect class="g" x="825" y="522.5" width="46" height="17"/><text x="848" y="535">PTPσ</text></g>
<g id="p8-slitrks" class="n"><rect class="w" x="910" y="522.5" width="46" height="17"/><text x="933" y="535" textLength="43" lengthAdjust="spacingAndGlyphs">SLITRKs</text></g>
<g id="p8-ptpd" class="n"><rect class="w" x="825" y="546.5" width="46" height="17"/><text x="848" y="559">PTPδ</text></g>
<g id="p8-slitrk3" class="n"><rect class="w" x="910" y="546.5" width="46" height="17"/><text x="933" y="559" textLength="43" lengthAdjust="spacingAndGlyphs">SLITRK3</text></g>

<g id="p9-igsf4b-l" class="n"><rect class="g" x="825" y="627.5" width="46" height="17"/><text x="848" y="640">IGSF4B</text></g>
<g id="p9-igsf4b-r" class="n"><rect class="g" x="909" y="627.5" width="46" height="17"/><text x="932" y="640">IGSF4B</text></g>
<g id="p9-nrcam" class="n"><rect class="g" x="825" y="657.5" width="46" height="17"/><text x="848" y="670" textLength="43" lengthAdjust="spacingAndGlyphs">NRCAM</text></g>
<g id="p9-cntn1" class="n"><rect class="w" x="909" y="657.5" width="46" height="17"/><text x="932" y="670">CNTN1</text></g>
<g id="p9-ptprm-l" class="n"><rect class="g" x="825" y="687.5" width="46" height="17"/><text x="848" y="700">PTPRM</text></g>
<g id="p9-ptprm-r" class="n"><rect class="g" x="909" y="687.5" width="46" height="17"/><text x="932" y="700">PTPRM</text></g>
<g id="p9-ncam-l" class="n"><rect class="w" x="825" y="717.5" width="46" height="17"/><text x="848" y="730">NCAM</text></g>
<g id="p9-ncam-r" class="n"><rect class="w" x="909" y="717.5" width="46" height="17"/><text x="932" y="730">NCAM</text></g>
<g id="p9-cntn2-l" class="n"><rect class="w" x="825" y="748.5" width="46" height="17"/><text x="848" y="761">CNTN2</text></g>
<g id="p9-cntn2-r" class="n"><rect class="w" x="909" y="748.5" width="46" height="17"/><text x="932" y="761">CNTN2</text></g>
<g id="p9-l1cam-l" class="n"><rect class="g" x="825" y="782.5" width="46" height="17"/><text x="848" y="795">L1CAM</text></g>
<g id="p9-l1cam-r" class="n"><rect class="g" x="909" y="782.5" width="46" height="17"/><text x="932" y="795">L1CAM</text></g>
<g id="p9-cdh2-l" class="n"><rect class="w" x="825" y="812.5" width="46" height="17"/><text x="848" y="825">CDH2</text></g>
<g id="p9-cdh2-r" class="n"><rect class="w" x="909" y="812.5" width="46" height="17"/><text x="932" y="825">CDH2</text></g>

<g id="p10-nrcam" class="n"><rect class="g" x="1100" y="113.5" width="46" height="17"/><text x="1123" y="126" textLength="43" lengthAdjust="spacingAndGlyphs">NRCAM</text></g>
<g id="p10-nf186" class="n"><rect class="g" x="1100" y="139.5" width="46" height="17"/><text x="1123" y="152">NF186</text></g>
<g id="p10-sdc" class="n"><rect class="g" x="1015" y="125.5" width="46" height="17"/><text x="1038" y="138">SDC</text></g>
<g id="p10-nf155" class="n"><rect class="g" x="1015" y="178.5" width="46" height="17"/><text x="1038" y="191">NF155</text></g>
<g id="p10-cntn1-cntnap1" class="n"><rect class="w" x="1100" y="178.5" width="46" height="17"/><text x="1123" y="191">CNTN1</text><rect class="g" x="1100" y="195.5" width="46" height="17"/><text x="1123" y="208" font-size="10" textLength="43" lengthAdjust="spacingAndGlyphs">CNTNAP1</text></g>
<g id="p10-cntn2-l" class="n"><rect class="w" x="1015" y="247.5" width="46" height="17"/><text x="1038" y="260">CNTN2</text></g>
<g id="p10-cntn2-cntnap2" class="n"><rect class="w" x="1100" y="247.5" width="46" height="17"/><text x="1123" y="260">CNTN2</text><rect class="r" x="1100" y="264.5" width="46" height="17"/><text x="1123" y="277" font-size="10" textLength="43" lengthAdjust="spacingAndGlyphs">CNTNAP2</text></g>

<g id="p11-mpz-l" class="n"><rect class="r" x="1014" y="398.5" width="46" height="17"/><text x="1037" y="411">MPZ</text></g>
<g id="p11-mpz-r" class="n"><rect class="r" x="1098" y="398.5" width="46" height="17"/><text x="1121" y="411">MPZ</text></g>
<g id="p11-mag-l" class="n"><rect class="w" x="1014" y="428.5" width="46" height="17"/><text x="1037" y="441">MAG</text></g>
<g id="p11-mag-r" class="n"><rect class="w" x="1098" y="428.5" width="46" height="17"/><text x="1121" y="441">MAG</text></g>
<g id="p11-cdhe-l" class="n"><rect class="g" x="1014" y="458.5" width="46" height="17"/><text x="1037" y="471">CDHE</text></g>
<g id="p11-cdhe-r" class="n"><rect class="g" x="1098" y="458.5" width="46" height="17"/><text x="1121" y="471">CDHE</text></g>

<g id="p12-nrcam" class="n"><rect class="g" x="1100" y="623.5" width="46" height="17"/><text x="1123" y="636" textLength="43" lengthAdjust="spacingAndGlyphs">NRCAM</text></g>
<g id="p12-nfasc-r" class="n"><rect class="g" x="1100" y="647.5" width="46" height="17"/><text x="1123" y="660">NFASC</text></g>
<g id="p12-cntn1-r" class="n"><rect class="w" x="1100" y="671.5" width="46" height="17"/><text x="1123" y="684">CNTN1</text></g>
<g id="p12-cspg2" class="n"><rect class="g" x="1015" y="646.5" width="46" height="17"/><text x="1038" y="659">CSPG2</text></g>
<g id="p12-nfasc-l" class="n"><rect class="g" x="1015" y="712.5" width="46" height="17"/><text x="1038" y="725">NFASC</text></g>
<g id="p12-cntn1-l" class="n"><rect class="w" x="1015" y="734.5" width="46" height="17"/><text x="1038" y="747">CNTN1</text></g>
<g id="p12-cntn1-cntnap1" class="n"><rect class="w" x="1100" y="712.5" width="46" height="17"/><text x="1123" y="725">CNTN1</text><rect class="g" x="1100" y="729.5" width="46" height="17"/><text x="1123" y="742" font-size="10" textLength="43" lengthAdjust="spacingAndGlyphs">CNTNAP1</text></g>
<g id="p12-cntn2-l" class="n"><rect class="w" x="1015" y="777.5" width="46" height="17"/><text x="1038" y="790">CNTN2</text></g>
<g id="p12-cntn2-cntnap2" class="n"><rect class="w" x="1100" y="777.5" width="46" height="17"/><text x="1123" y="790">CNTN2</text><rect class="r" x="1100" y="794.5" width="46" height="17"/><text x="1123" y="807" font-size="10" textLength="43" lengthAdjust="spacingAndGlyphs">CNTNAP2</text></g>

<g id="p13-cldn-l" class="n"><rect class="r" x="1206" y="105.5" width="46" height="17"/><text x="1229" y="118">CLDN</text></g>
<g id="p13-cldn-r" class="n"><rect class="r" x="1290" y="105.5" width="46" height="17"/><text x="1313" y="118">CLDN</text></g>
<g id="p13-ocln-l" class="n"><rect class="g" x="1206" y="132.5" width="46" height="17"/><text x="1229" y="145">OCLN</text></g>
<g id="p13-ocln-r" class="n"><rect class="g" x="1290" y="132.5" width="46" height="17"/><text x="1313" y="145">OCLN</text></g>
<g id="p13-jam1-l" class="n"><rect class="g" x="1206" y="160.5" width="46" height="17"/><text x="1229" y="173">JAM1</text></g>
<g id="p13-jam1-r" class="n"><rect class="g" x="1290" y="160.5" width="46" height="17"/><text x="1313" y="173">JAM1</text></g>
<g id="p13-pvrl1-l" class="n"><rect class="g" x="1206" y="187.5" width="46" height="17"/><text x="1229" y="200">PVRL1</text></g>
<g id="p13-pvrl1-r" class="n"><rect class="g" x="1290" y="187.5" width="46" height="17"/><text x="1313" y="200">PVRL1</text></g>
<g id="p13-cdhe-l" class="n"><rect class="g" x="1206" y="214.5" width="46" height="17"/><text x="1229" y="227">CDHE</text></g>
<g id="p13-cdhe-r" class="n"><rect class="g" x="1290" y="214.5" width="46" height="17"/><text x="1313" y="227">CDHE</text></g>
<g id="p13-igsf4-l" class="n"><rect class="g" x="1206" y="242.5" width="46" height="17"/><text x="1229" y="255">IGSF4</text></g>
<g id="p13-igsf4-r" class="n"><rect class="g" x="1290" y="242.5" width="46" height="17"/><text x="1313" y="255">IGSF4</text></g>

<g id="p14-cdhe-l" class="n"><rect class="g" x="1206" y="407.5" width="46" height="17"/><text x="1229" y="420">CDHE</text></g>
<g id="p14-cdhe-r" class="n"><rect class="g" x="1290" y="407.5" width="46" height="17"/><text x="1313" y="420">CDHE</text></g>
<g id="p14-cdh2-l" class="n"><rect class="w" x="1206" y="434.5" width="46" height="17"/><text x="1229" y="447">CDH2</text></g>
<g id="p14-cdh2-r" class="n"><rect class="w" x="1290" y="434.5" width="46" height="17"/><text x="1313" y="447">CDH2</text></g>
<g id="p14-pvrl3" class="n"><rect class="w" x="1206" y="460.5" width="46" height="17"/><text x="1229" y="473">PVRL3</text></g>
<g id="p14-pvrl2" class="n"><rect class="g" x="1290" y="460.5" width="46" height="17"/><text x="1313" y="473">PVRL2</text></g>
<g id="p14-itga6-itgb1" class="n"><rect class="g" x="1290" y="486.5" width="46" height="17"/><text x="1313" y="499">ITGA6</text><rect class="r" x="1290" y="503.5" width="46" height="17"/><text x="1313" y="516">ITGB1</text></g>

<g id="p15-pvrl1-l" class="n"><rect class="g" x="1207" y="596.5" width="46" height="17"/><text x="1230" y="609">PVRL1</text></g>
<g id="p15-pvrl3-r" class="n"><rect class="w" x="1291" y="596.5" width="46" height="17"/><text x="1314" y="609">PVRL3</text></g>
<g id="p15-pvrl3-l" class="n"><rect class="w" x="1207" y="623.5" width="46" height="17"/><text x="1230" y="636">PVRL3</text></g>
<g id="p15-pvrl1-r" class="n"><rect class="g" x="1291" y="623.5" width="46" height="17"/><text x="1314" y="636">PVRL1</text></g>
<g id="p15-cdh3-l" class="n"><rect class="w" x="1207" y="651.5" width="46" height="17"/><text x="1230" y="664">CDH3</text></g>
<g id="p15-cdh3-r" class="n"><rect class="w" x="1291" y="651.5" width="46" height="17"/><text x="1314" y="664">CDH3</text></g>

<g id="p16-cdh2-l" class="n"><rect class="w" x="1207" y="717.5" width="46" height="17"/><text x="1230" y="730">CDH2</text></g>
<g id="p16-cdh2-r" class="n"><rect class="w" x="1291" y="717.5" width="46" height="17"/><text x="1314" y="730">CDH2</text></g>
<g id="p16-cdh4-l" class="n"><rect class="g" x="1207" y="743.5" width="46" height="17"/><text x="1230" y="756">CDH4</text></g>
<g id="p16-cdh4-r" class="n"><rect class="g" x="1291" y="743.5" width="46" height="17"/><text x="1314" y="756">CDH4</text></g>
<g id="p16-cdh15-l" class="n"><rect class="w" x="1207" y="767.5" width="46" height="17"/><text x="1230" y="780">CDH15</text></g>
<g id="p16-cdh15-r" class="n"><rect class="w" x="1291" y="767.5" width="46" height="17"/><text x="1314" y="780">CDH15</text></g>
<g id="p16-neo1" class="n"><rect class="g" x="1291" y="794.5" width="46" height="17"/><text x="1314" y="807">NEO1</text></g>
</g>

<g id="footer">
<text class="foot" x="17" y="896">Data on KEGG graph</text>
<text class="foot" x="17" y="911">Rendered by Pathview</text>
</g>
</svg>
